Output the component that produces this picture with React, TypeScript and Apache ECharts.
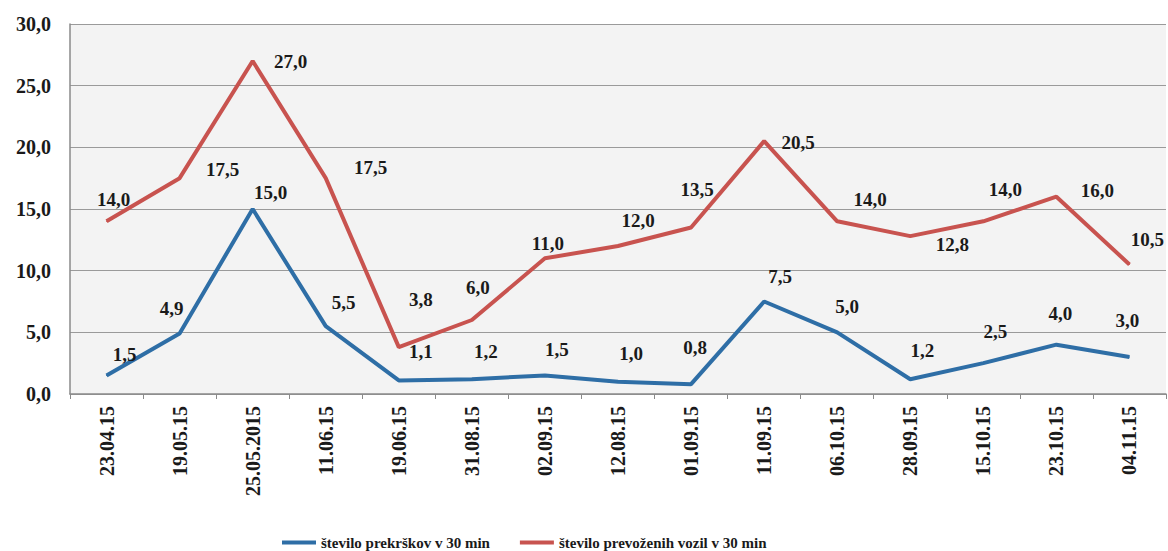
import React, { useEffect, useRef } from "react";
import * as echarts from "echarts";

const categories = ["23.04.15", "19.05.15", "25.05.2015", "11.06.15", "19.06.15", "31.08.15", "02.09.15", "12.08.15", "01.09.15", "11.09.15", "06.10.15", "28.09.15", "15.10.15", "23.10.15", "04.11.15"];
const prekrskiName = "število prekrškov v 30 min";
const vozilaName = "število prevoženih vozil v 30 min";
const prekrski = [1.5, 4.9, 15.0, 5.5, 1.1, 1.2, 1.5, 1.0, 0.8, 7.5, 5.0, 1.2, 2.5, 4.0, 3.0];
const vozila = [14.0, 17.5, 27.0, 17.5, 3.8, 6.0, 11.0, 12.0, 13.5, 20.5, 14.0, 12.8, 14.0, 16.0, 10.5];
const yTicks = { min: 0, max: 30, interval: 5 };

// label offsets [dx, dy] relative to "top" placement
const prekrskiOffsets = [[18, -6], [-8, -10], [18, -2], [18, -9], [22, -14], [14, -13], [12, -11], [13, -13], [4, -22], [16, -10], [10, -11], [12, -14], [12, -17], [4, -16], [-2, -22]];
const vozilaOffsets = [[7, -7], [43, 6], [38, 15], [45, 4], [22, -33], [6, -18], [3, 0], [20, -11], [6, -23], [34, 16], [33, -7], [42, 23], [22, -17], [41, 9], [18, -10]];

const fmt = (v: number) => v.toFixed(1).replace(".", ",");

export default function App() {
  const ref = useRef<HTMLDivElement>(null);
  useEffect(() => {
    if (!ref.current) return;
    const chart = echarts.init(ref.current, null, { renderer: "svg" });
    const labelStyle = {
      show: true,
      position: "top",
      distance: 5,
      fontFamily: "Liberation Serif",
      fontWeight: "bold",
      fontSize: 19,
      color: "#1a1a1a",
      formatter: (p: any) => fmt(p.value),
    };
    chart.setOption({
      animation: false,
      backgroundColor: "#ffffff",
      grid: {
        left: 70,
        right: 2,
        top: 24,
        bottom: 157,
        show: true,
        backgroundColor: "#f3f3f3",
        borderWidth: 0,
      },
      legend: {
        left: 277,
        top: 530,
        itemWidth: 34,
        itemHeight: 4,
        itemGap: 30,
        icon: "rect",
        textStyle: { fontFamily: "Liberation Serif", fontWeight: "bold", fontSize: 15, color: "#1a1a1a" },
        data: [prekrskiName, vozilaName],
      },
      xAxis: {
        type: "category",
        data: categories,
        boundaryGap: true,
        axisLine: { show: true, lineStyle: { color: "#8a8a8a", width: 1.5 } },
        axisTick: { show: true, length: 5, lineStyle: { color: "#8a8a8a" } },
        axisLabel: {
          rotate: 90,
          margin: 12,
          fontFamily: "Liberation Serif",
          fontWeight: "bold",
          fontSize: 20,
          color: "#1a1a1a",
        },
      },
      yAxis: {
        type: "value",
        min: yTicks.min,
        max: yTicks.max,
        interval: yTicks.interval,
        axisLine: { show: true, lineStyle: { color: "#8a8a8a", width: 1.5 } },
        axisTick: { show: false },
        splitLine: { show: true, lineStyle: { color: "#9a9a9a", width: 1.2 } },
        axisLabel: {
          margin: 19,
          fontFamily: "Liberation Serif",
          fontWeight: "bold",
          fontSize: 20,
          color: "#1a1a1a",
          formatter: (v: number) => fmt(v),
        },
      },
      series: [
        {
          name: prekrskiName,
          type: "line",
          data: prekrski.map((v, i) => ({ value: v, label: { offset: prekrskiOffsets[i] } })),
          symbol: "circle",
          symbolSize: 1,
          showSymbol: true,
          lineStyle: { color: "#2e6ea6", width: 4 },
          itemStyle: { color: "#2e6ea6" },
          label: labelStyle,
        },
        {
          name: vozilaName,
          type: "line",
          data: vozila.map((v, i) => ({ value: v, label: { offset: vozilaOffsets[i] } })),
          symbol: "circle",
          symbolSize: 1,
          showSymbol: true,
          lineStyle: { color: "#c8534f", width: 4 },
          itemStyle: { color: "#c8534f" },
          label: labelStyle,
        },
      ],
    });
    return () => chart.dispose();
  }, []);
  return <div ref={ref} style={{ width: 1168, height: 551, position: "absolute", left: 0, top: 0 }} />;
}
